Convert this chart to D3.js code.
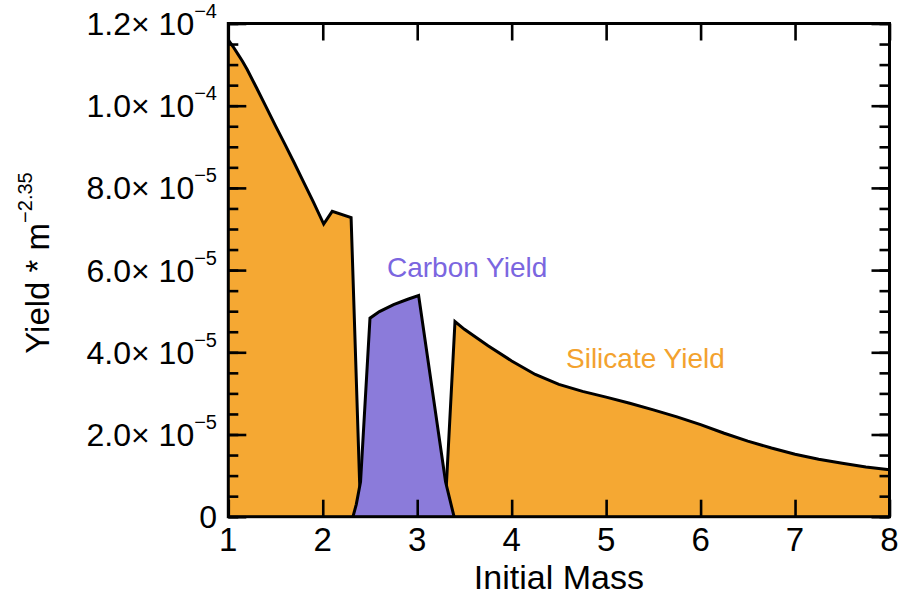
<!DOCTYPE html>
<html>
<head>
<meta charset="utf-8">
<script src="https://cdn.jsdelivr.net/npm/d3@7"></script>
<style>
  html, body { margin: 0; padding: 0; background: #fff; }
  svg { display: block; font-family: "Liberation Sans", Arial, Helvetica, sans-serif; }
</style>
</head>
<body>
<svg id="chart" width="902" height="596"></svg>
<script>
// ---- Data (yield * m^-2.35 in units of 1e-6) ----
const siliMassLow  = [1.0, 1.05, 1.1, 1.15, 1.2, 1.3, 1.4, 1.5, 1.6, 1.7, 1.8, 1.9, 2.01, 2.1, 2.3, 2.39, 2.42];
const siliYieldLow = [116, 114.4, 112.6, 110.8, 108.8, 104.3, 99.7, 95.1, 90.6, 86.0, 81.3, 76.6, 71.2, 74.3, 72.8, 8.5, 0];

const carbonMass  = [2.32, 2.355, 2.40, 2.50, 2.60, 2.75, 2.90, 3.015, 3.30, 3.39];
const carbonYield = [0, 3.0, 8.5, 48.3, 49.9, 51.6, 52.9, 53.8, 8.5, 0];

const siliMassHigh  = [3.28, 3.31, 3.40, 3.5, 3.75, 4.0, 4.25, 4.5, 4.75, 5.0, 5.25, 5.5, 5.75, 6.0, 6.25, 6.5, 6.75, 7.0, 7.25, 7.5, 7.75, 8.0];
const siliYieldHigh = [0, 8.3, 47.5, 45.6, 41.6, 37.9, 34.6, 32.2, 30.5, 29.1, 27.6, 26.0, 24.3, 22.4, 20.3, 18.4, 16.7, 15.2, 14.0, 13.0, 12.1, 11.4];

const massTicks = [1, 2, 3, 4, 5, 6, 7, 8];
const yieldTicks = [0, 2e-5, 4e-5, 6e-5, 8e-5, 1.0e-4, 1.2e-4];
const yieldTickMantissa = ["0", "2.0×", "4.0×", "6.0×", "8.0×", "1.0×", "1.2×"];
const yieldTickExponent = ["", "−5", "−5", "−5", "−5", "−4", "−4"];
const yieldMinorTicks = d3.range(0, 1.2e-4 + 1e-9, 5e-6);

const xTitle = "Initial Mass";
const yTitle = "Yield * m";
const yTitleSup = "−2.35";
const carbonLabel = "Carbon Yield";
const silicateLabel = "Silicate Yield";

// ---- Layout ----
const svg = d3.select("#chart");
const L = 228.3, R = 889.5, T = 23.5, B = 516.7;
const x = d3.scaleLinear().domain([1, 8]).range([L, R]);
const y = d3.scaleLinear().domain([0, 1.2e-4]).range([B, T]);

const orange = "#F5A833";
const purple = "#8B7BDA";

function toPts(ms, vs) { return ms.map((m, i) => [m, vs[i] * 1e-6]); }

const area = d3.area().x(d => x(d[0])).y0(y(0)).y1(d => y(d[1]));
const line = d3.line().x(d => x(d[0])).y(d => y(d[1]));

const series = [
  { pts: toPts(siliMassLow, siliYieldLow), color: orange },
  { pts: toPts(siliMassHigh, siliYieldHigh), color: orange },
  { pts: toPts(carbonMass, carbonYield), color: purple }
];

const g = svg.append("g");
series.forEach(s => {
  g.append("path").attr("d", area(s.pts)).attr("fill", s.color).attr("stroke", "none");
  g.append("path").attr("d", line(s.pts)).attr("fill", "none")
    .attr("stroke", "#000").attr("stroke-width", 3).attr("stroke-linejoin", "miter");
});

// ---- Axes (inward ticks) ----
function styleAxis(sel) {
  sel.select(".domain").remove();
  sel.selectAll(".tick line").attr("stroke", "#000").attr("stroke-width", 2.6);
  sel.selectAll(".tick text").remove();
}
svg.append("g").attr("transform", `translate(0,${B})`)
  .call(d3.axisBottom(x).tickValues(massTicks).tickSize(-17)).call(styleAxis);
svg.append("g").attr("transform", `translate(0,${T})`)
  .call(d3.axisTop(x).tickValues(massTicks).tickSize(-17)).call(styleAxis);
svg.append("g").attr("transform", `translate(${L},0)`)
  .call(d3.axisLeft(y).tickValues(yieldMinorTicks).tickSize(-10)).call(styleAxis);
svg.append("g").attr("transform", `translate(${L},0)`)
  .call(d3.axisLeft(y).tickValues(yieldTicks).tickSize(-18)).call(styleAxis);
svg.append("g").attr("transform", `translate(${R},0)`)
  .call(d3.axisRight(y).tickValues(yieldMinorTicks).tickSize(-10)).call(styleAxis);
svg.append("g").attr("transform", `translate(${R},0)`)
  .call(d3.axisRight(y).tickValues(yieldTicks).tickSize(-18)).call(styleAxis);

// frame
svg.append("rect").attr("x", L).attr("y", T).attr("width", R - L).attr("height", B - T)
  .attr("fill", "none").attr("stroke", "#000").attr("stroke-width", 3);

// x tick labels
svg.append("g").selectAll("text").data(massTicks).join("text")
  .attr("x", d => x(d)).attr("y", 551)
  .attr("text-anchor", "middle").attr("font-size", 33).attr("fill", "#000")
  .text(d => d);

// y tick labels
const yl = svg.append("g").selectAll("text").data(yieldTicks).join("text")
  .attr("x", 217).attr("y", d => y(d) + 11.5)
  .attr("text-anchor", "end").attr("font-size", 32).attr("fill", "#000");
yl.each(function(d, i) {
  const t = d3.select(this);
  if (yieldTickExponent[i] === "") {
    t.text(yieldTickMantissa[i]);
  } else {
    t.append("tspan").text(yieldTickMantissa[i] + " 10");
    t.append("tspan").attr("dy", -17).attr("font-size", 20).text(yieldTickExponent[i]);
  }
});

// axis titles
svg.append("text").attr("x", (L + R) / 2).attr("y", 589)
  .attr("text-anchor", "middle").attr("font-size", 34).attr("fill", "#000").text(xTitle);

const yt = svg.append("text").attr("transform", "translate(49,263) rotate(-90)")
  .attr("text-anchor", "middle").attr("font-size", 33).attr("fill", "#000");
yt.append("tspan").text(yTitle);
yt.append("tspan").attr("dy", -17).attr("font-size", 20).text(yTitleSup);

// series labels
svg.append("text").attr("x", 387).attr("y", 277).attr("font-size", 28)
  .attr("fill", "#7B66E0").text(carbonLabel);
svg.append("text").attr("x", 566).attr("y", 368).attr("font-size", 28)
  .attr("fill", "#F3A22E").text(silicateLabel);
</script>
</body>
</html>
